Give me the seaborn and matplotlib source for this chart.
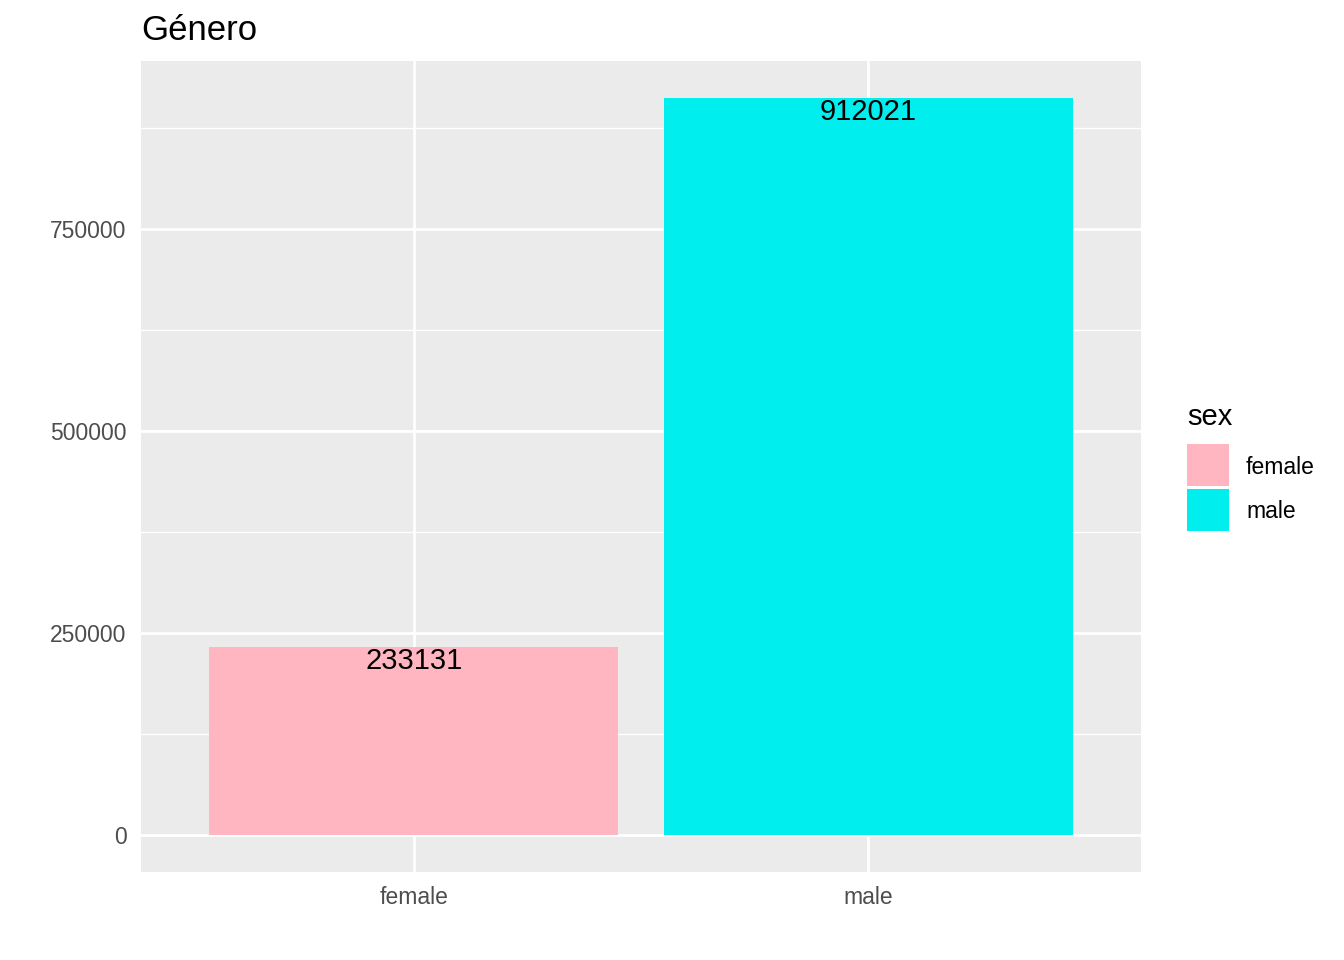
import matplotlib
matplotlib.use("Agg")
import matplotlib.pyplot as plt
import seaborn as sns
import pandas as pd
from matplotlib.patches import Rectangle

sex = ["female", "male"]
counts = [233131, 912021]
colors = {"female": "#FFB6C1", "male": "#00EEEE"}
yticks = [0, 250000, 500000, 750000]
minor_ticks = [125000, 375000, 625000, 875000]

df = pd.DataFrame({"sex": sex, "n": counts})

sns.set_theme(style="darkgrid")
plt.rcParams["font.family"] = ["Liberation Sans", "DejaVu Sans"]

fig = plt.figure(figsize=(13.44, 9.6), dpi=100)
ax = fig.add_axes([141/1344, 1-872/960, 1000/1344, 811/960])
ax.set_facecolor("#EBEBEB")

sns.barplot(data=df, x="sex", y="n", hue="sex", palette=colors, width=0.9,
            dodge=False, saturation=1, ax=ax, legend=False, linewidth=0,
            edgecolor="none")

ymax = max(counts)
pad = ymax * 0.05
ax.set_ylim(-pad, ymax + pad)
ax.set_xlim(-0.6, 1.6)

ax.set_yticks(yticks)
ax.set_yticklabels([str(v) for v in yticks])
ax.set_yticks(minor_ticks, minor=True)
ax.grid(False)
ax.set_axisbelow(True)
ax.grid(True, which="major", color="white", linewidth=2.0)
ax.grid(True, which="minor", axis="y", color="white", linewidth=1.0)
ax.tick_params(axis="both", which="major", length=5.3, width=1.4, color="#333333",
               labelcolor="#4D4D4D", labelsize=16.5, pad=5)
ax.tick_params(axis="y", which="minor", length=0)
for s in ax.spines.values():
    s.set_visible(False)
ax.set_xlabel("")
ax.set_ylabel("")

for i, v in enumerate(counts):
    ax.text(i, v, str(v), ha="center", va="top", fontsize=21, color="black")

fig.text(141/1344, 1-31/960, "Género", fontsize=25, ha="left", va="center", color="black")

# legend
fig.text(1187/1344, 1-417/960, "sex", fontsize=21, ha="left", va="center", color="black")
for j, s in enumerate(sex):
    y0 = 444 + j * 45
    fig.patches.append(Rectangle((1187/1344, 1-(y0+42)/960), 42/1344, 42/960,
                                 transform=fig.transFigure, facecolor=colors[s],
                                 edgecolor="none"))
    fig.text(1246/1344, 1-(y0+23)/960, s, fontsize=16.5, ha="left", va="center", color="black")

fig.savefig("out.png", dpi=100, facecolor="white")
